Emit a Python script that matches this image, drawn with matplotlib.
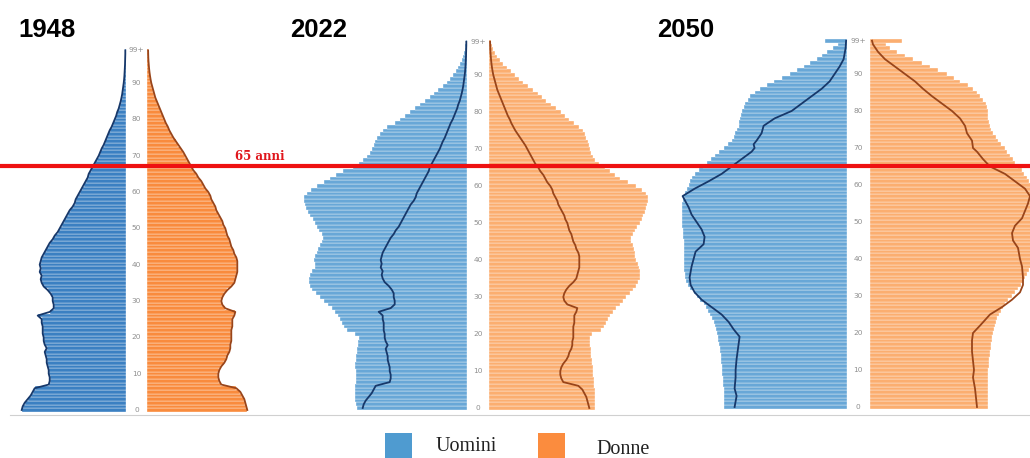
import numpy as np
import matplotlib.pyplot as plt
from matplotlib.lines import Line2D
from matplotlib.patches import Rectangle

# età 0..99 (99 = "99+")
ages = np.arange(100)
tick_ages = [0, 10, 20, 30, 40, 50, 60, 70, 80, 90, 99]
tick_labels = ["0", "10", "20", "30", "40", "50", "60", "70", "80", "90", "99+"]

years = ["1948", "2022", "2050"]

men_1948 = [104, 103, 101, 98, 95, 93, 91, 77, 76, 76,
            77, 77, 78, 79, 79, 80, 81, 79, 81, 82,
            82, 83, 83, 83, 84, 84, 88, 76, 72, 72,
            73, 73, 75, 78, 82, 84, 85, 84, 86, 85,
            86, 85, 84, 82, 80, 78, 76, 73, 71, 68,
            66, 64, 62, 60, 58, 56, 53, 51, 50, 48,
            46, 44, 42, 40, 38, 37, 35, 33, 31, 29,
            27, 25.5, 24, 22, 20.5, 19, 17.5, 16, 14, 12.5,
            11, 9.5, 8.5, 7, 6, 5, 4.2, 3.5, 3, 2.5,
            2, 1.6, 1.3, 1.1, 0.9, 0.7, 0.6, 0.5, 0.4, 0.4]

women_1948 = [100, 99, 98, 97, 95, 93, 89, 74, 72, 71,
              71, 72, 74, 77, 79, 80, 82, 83, 83, 84,
              84, 84, 84, 85, 85, 85, 87, 88, 78, 75,
              74, 75, 77, 80, 84, 87, 88, 89, 90, 90,
              90, 90, 89, 87, 86, 84, 83, 82, 80, 79,
              78, 76, 75, 73, 71, 69, 68, 66, 64, 63,
              61, 58, 56, 54, 51, 49, 46, 44, 42, 40,
              38, 36, 33.5, 31, 28.5, 26, 24, 22, 20.5, 18.5,
              17, 15.5, 14, 12.5, 11, 9.5, 8, 7, 6, 5,
              4, 3.3, 2.7, 2.2, 1.8, 1.5, 1.2, 1, 0.9, 0.8]

men_2022 = [110, 111, 112, 112, 112, 112, 112, 111, 111, 111,
            111, 112, 112, 111, 111, 110, 110, 109, 109, 108,
            112, 120, 123, 125, 127, 129, 132, 135, 139, 143,
            147, 151, 155, 157, 158, 158, 157, 155, 152, 152,
            153, 152, 150, 149, 147, 145, 144, 145, 148, 150,
            152, 154, 157, 159, 161, 162, 163, 163, 160, 156,
            150, 143, 137, 131, 124, 114, 108, 104, 100, 97,
            95, 93, 92, 90, 87, 84, 80, 72, 67, 62,
            57, 52, 47, 42, 37, 33, 29, 24, 20, 17,
            14, 11, 9, 7, 5, 4, 3, 2, 1.5, 1]

women_2022 = [106, 106, 106, 106, 106, 106, 105, 105, 105, 104,
              104, 104, 103, 103, 102, 102, 102, 101, 101, 101,
              103, 112, 115, 117, 119, 121, 124, 127, 131, 134,
              137, 141, 144, 147, 149, 151, 151, 151, 150, 149,
              147, 146, 146, 145, 144, 142, 142, 144, 146, 148,
              151, 153, 154, 156, 157, 158, 159, 159, 157, 153,
              147, 139, 131, 126, 121, 116, 110, 106, 104, 102,
              101, 100, 99, 97, 96, 94, 90, 85, 80, 76,
              72, 67, 62, 57, 53, 49, 44, 39, 34, 30,
              26, 22, 18, 14, 11, 8, 6, 4, 3, 2]

men_2050 = [123, 123, 123, 123, 123, 123, 124, 124, 124, 125,
            125, 125, 126, 126, 126, 127, 127, 128, 129, 129,
            130, 131, 132, 133, 135, 137, 139, 141, 143, 147,
            150, 153, 157, 159, 161, 162, 162, 163, 163, 163,
            163, 163, 163, 163, 163, 163, 164, 164, 164, 165,
            165, 165, 165, 165, 165, 165, 164, 163, 162, 160,
            158, 157, 155, 152, 148, 144, 140, 136, 132, 128,
            123, 119, 115, 113, 112, 110, 108, 108, 107, 106,
            105, 103, 102, 99, 97, 92, 87, 80, 73, 65,
            57, 50, 43, 37, 30, 25, 20, 14, 9, 22]

women_2050 = [118, 118, 118, 118, 118, 118, 118, 118, 118, 118,
              118, 119, 119, 119, 120, 120, 121, 121, 122, 122,
              123, 124, 125, 126, 127, 129, 131, 133, 135, 138,
              142, 145, 148, 151, 153, 155, 157, 159, 161, 162,
              163, 164, 164, 165, 165, 165, 165, 165, 165, 165,
              165, 165, 165, 165, 165, 165, 165, 165, 164, 163,
              161, 159, 157, 154, 152, 148, 145, 143, 140, 137,
              135, 131, 128, 126, 123, 121, 120, 119, 118, 118,
              118, 117, 116, 113, 110, 107, 103, 98, 90, 84,
              77, 68, 60, 52, 43, 35, 27, 20, 16, 32]

# profilo di confronto disegnato sul pannello 2050
cmp2050_ages_m = [0, 3, 5, 8, 10, 13, 17, 19, 20, 21, 23, 25, 27, 29, 31, 33, 35, 38, 40, 42,
                  44, 46, 48, 50, 52, 54, 56, 57, 59, 61, 63, 65, 67, 69, 70, 71, 72, 74, 76, 78,
                  80, 82, 84, 86, 88, 90, 92, 94, 97, 99]
cmp2050_m = [112, 110, 112, 111, 111, 110, 108, 107, 110, 113, 118, 125, 135, 145, 152, 156, 157, 155, 153, 151,
             143, 142, 145, 150, 155, 158, 162, 164, 152, 138, 125, 115, 105, 95, 92, 93, 90, 85, 83, 72,
             55, 45, 35, 25, 17, 12, 7, 3, 1, 0.5]
cmp2050_ages_w = [0, 5, 8, 10, 15, 18, 20, 22, 25, 27, 29, 31, 33, 35, 38, 40, 43, 45, 47, 49,
                  51, 53, 55, 57, 59, 61, 63, 65, 67, 69, 70, 72, 74, 76, 78, 80, 82, 84, 86, 88,
                  90, 92, 94, 96, 98, 99]
cmp2050_w = [107, 105, 103, 104, 102, 102, 103, 110, 120, 132, 142, 150, 153, 153, 152, 150, 148, 143, 142, 145,
             152, 155, 158, 160, 155, 145, 135, 120, 113, 107, 103, 102, 97, 95, 90, 82, 72, 62, 53, 45,
             35, 25, 15, 8, 3, 2]

W, H = 1030, 458
fig = plt.figure(figsize=(W / 100, H / 100), dpi=100)

blue_dark, orange_dark = "#3b80c2", "#f98b3d"
blue_light, orange_light = "#68a7d7", "#fbae70"
navy, brown = "#17386a", "#99451a"


def panel(cx, y0, k, gap, half_w=180):
    ax = fig.add_axes([(cx - half_w) / W, (H - (y0 + 1.5 * k)) / H,
                       2 * half_w / W, 102.5 * k / H])
    ax.set_xlim(-half_w, half_w)
    ax.set_ylim(-1.5, 101)
    ax.axis("off")
    for a, lab in zip(tick_ages, tick_labels):
        ax.text(0, a, lab, ha="center", va="center", fontsize=5.3, color="#8f8f8f")
    return ax


def bars(ax, men, women, gap, cm, cw):
    m = np.array(men)
    w = np.array(women)
    ax.barh(ages, -m, left=-gap, height=1.0, color=cm, edgecolor="#ffffff",
            linewidth=0.25)
    ax.barh(ages, w, left=gap, height=1.0, color=cw, edgecolor="#ffffff",
            linewidth=0.25)


# 1948
ax1 = panel(136.5, 410, 3.633, 10.8)
bars(ax1, men_1948, women_1948, 10.8, blue_dark, orange_dark)
ax1.plot(-10.8 - np.array(men_1948), ages, color=navy, lw=1.3)
ax1.plot(10.8 + np.array(women_1948), ages, color=brown, lw=1.3)

# 2022
ax2 = panel(478, 408, 3.7, 11.3)
bars(ax2, men_2022, women_2022, 11.3, blue_light, orange_light)
ax2.plot(-11.3 - np.array(men_1948), ages, color=navy, lw=1.3)
ax2.plot(11.3 + np.array(women_1948), ages, color=brown, lw=1.3)

# 2050
ax3 = panel(858.3, 407, 3.7, 11.7)
bars(ax3, men_2050, women_2050, 11.7, blue_light, orange_light)
ax3.plot(-11.7 - np.array(cmp2050_m), cmp2050_ages_m, color=navy, lw=1.3)
ax3.plot(11.7 + np.array(cmp2050_w), cmp2050_ages_w, color=brown, lw=1.3)

# titoli
for x, yr in zip([18, 290, 657], years):
    fig.text(x / W, 1 - 37 / H, yr, fontsize=18.5, fontweight="bold",
             family="Liberation Sans", va="baseline", ha="left")

# linea dei 65 anni
fig.add_artist(Line2D([0, 1], [1 - 166 / H] * 2, transform=fig.transFigure,
                      color="#ee1111", lw=3))
fig.text(235 / W, 1 - 160 / H, "65 anni", family="DejaVu Serif", fontweight="bold",
         fontsize=8.5, color="#e0161c", va="baseline")

# linea di base
fig.add_artist(Line2D([10 / W, 1], [1 - 415 / H] * 2, transform=fig.transFigure,
                      color="#d0d0d0", lw=0.8))

# legenda
fig.add_artist(Rectangle((385 / W, 0), 27 / W, 25 / H, transform=fig.transFigure,
                         color="#4f9bd0", lw=0))
fig.add_artist(Rectangle((538 / W, 0), 27 / W, 25 / H, transform=fig.transFigure,
                         color="#fb8c3e", lw=0))
fig.text(436 / W, 1 - 451 / H, "Uomini", family="Liberation Serif", fontsize=14.5,
         va="baseline", color="#222222")
fig.text(596 / W, 1 - 453.5 / H, "Donne", family="Liberation Serif", fontsize=14.5,
         va="baseline", color="#222222")

fig.savefig("out.png", dpi=100)
